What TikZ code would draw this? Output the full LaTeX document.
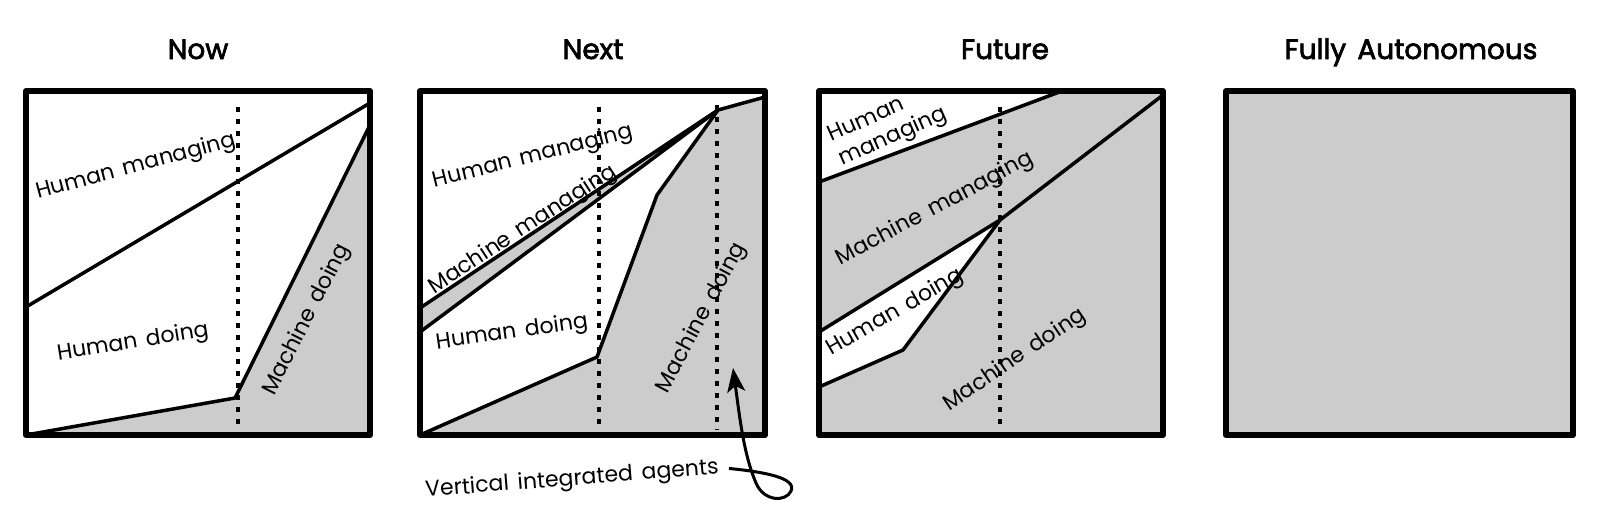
\documentclass[tikz,border=0pt]{standalone}
\usepackage{fontspec}
\setmainfont{Poppins}[WordSpace=1.5]
\newfontfamily\titlefont{Poppins}[FakeBold=2.5,WordSpace=1.5]
\usetikzlibrary{arrows.meta}
\definecolor{fillgray}{HTML}{CCCCCC}
\begin{document}
\begin{tikzpicture}[x=0.5pt,y=-0.5pt,
  frame/.style={line width=3pt,line join=round},
  divline/.style={line width=1.75pt,line join=round},
  dots/.style={line width=1.9pt,dash pattern=on 2.6pt off 3.4pt},
  lbl/.style={font=\fontsize{11}{13}\selectfont,inner sep=0pt},
  ttl/.style={font=\titlefont\fontsize{14}{16}\selectfont,anchor=base,inner sep=0pt},
  shade/.style={fill=fillgray},
  pointer/.style={line width=1.5pt,-{Stealth[length=12pt,width=9pt,inset=3pt]}}]
\useasboundingbox (0,0) rectangle (1600,520);
% titles
\node[ttl] (t1) at (198,59) {Now};
\node[ttl] (t2) at (593,59) {Next};
\node[ttl] (t3) at (1005,59) {Future};
\node[ttl] (t4) at (1411,59) {Fully Autonomous};
% ---------- panel 1 ----------
\fill[shade] (26,435) -- (235,398) -- (370,125) -- (370,435) -- cycle;
\draw[divline] (26,307) -- (370,103);
\draw[divline] (26,435) -- (235,398) -- (370,125);
\node[lbl,rotate=15] (a1) at (136,167) {Human managing};
\node[lbl,rotate=9] (a2) at (133,343) {Human doing};
\node[lbl,rotate=63] (a3) at (307,320) {Machine doing};
\draw[dots] (238,107) -- (238,430);
\draw[frame] (26,91) rectangle (370,435);
% ---------- panel 2 ----------
\fill[shade] (420,435) -- (597,357) -- (657,195) -- (718,110) -- (765,97) -- (765,435) -- cycle;
\fill[shade] (420,308) -- (718,110) -- (420,332) -- cycle;
\draw[divline] (420,308) -- (718,110) -- (420,332);
\draw[divline] (420,435) -- (597,357) -- (657,195) -- (718,110) -- (765,97);
\node[lbl,rotate=14] (b1) at (533,157) {Human managing};
\node[lbl,rotate=33] (b2) at (523,230) {Machine managing};
\node[lbl,rotate=8] (b3) at (512,333) {Human doing};
\node[lbl,rotate=62] (b4) at (702,318) {Machine doing};
\draw[dots] (599,107) -- (599,430);
\draw[dots] (717,105) -- (717,430);
\draw[frame] (420,91) rectangle (765,435);
\node[lbl,rotate=4.5] (va) at (572,480) {Vertical integrated agents};
\coordinate (tip) at (733,368);
\draw[pointer] (va.east) ++(5pt,0) .. controls (765,472) and (797,478) .. (791,491)
   .. controls (786,502) and (764,502) .. (756,483)
   .. controls (744,455) and (740,420) .. (tip);
% ---------- panel 3 ----------
\fill[shade] (819,182) -- (1062,91) -- (1163,91) -- (1163,435) -- (819,435) -- cycle;
\fill[white] (819,332) -- (1000,220) -- (903,350) -- (819,387) -- cycle;
\draw[divline] (819,182) -- (1062,91);
\draw[divline] (819,332) -- (1000,220) -- (1163,95);
\draw[divline] (1000,220) -- (903,350) -- (819,387);
\node[lbl,rotate=24,align=left] (c1) at (888,126) {Human\\managing};
\node[lbl,rotate=28] (c2) at (935,209) {Machine managing};
\node[lbl,rotate=30] (c3) at (895,313) {Human doing};
\node[lbl,rotate=34] (c4) at (1015,360) {Machine doing};
\draw[dots] (1000,107) -- (1000,430);
\draw[frame] (819,91) rectangle (1163,435);
% ---------- panel 4 ----------
\draw[frame,shade] (1226,91) rectangle (1573,435);
\end{tikzpicture}
\end{document}
